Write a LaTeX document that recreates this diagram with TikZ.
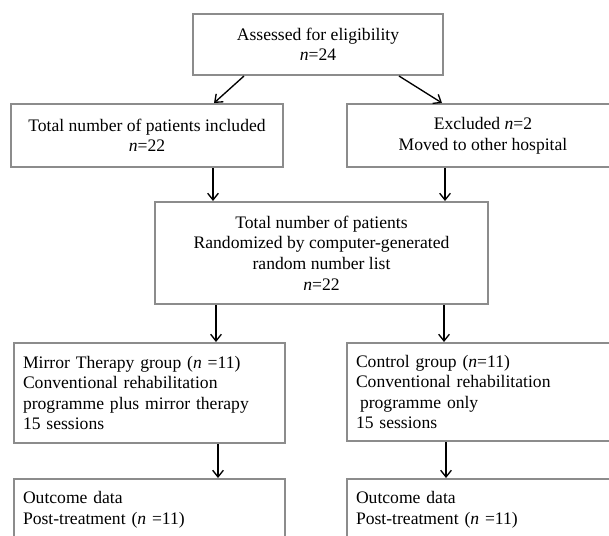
\documentclass[tikz,border=0pt]{standalone}
\usepackage{fontspec}
\setmainfont{Liberation Serif}
\usetikzlibrary{arrows.meta}

\tikzset{every picture/.style={line width=0.75pt}}
\tikzset{
  flowbox/.style={draw={rgb, 255:red, 140; green, 140; blue, 140}, line width=1.5pt, inner sep=0pt, align=center, font=\fontsize{13.2}{15.4}\selectfont},
  leftbox/.style={flowbox, align=left, inner xsep=6.75pt},
  flowarrow/.style={draw=black, line width=1pt, -{Straight Barb[length=5pt,width=8pt]}}
}

\begin{document}
\begin{tikzpicture}[x=0.75pt,y=0.75pt,yscale=-1,xscale=1]
\useasboundingbox (0,0) rectangle (609,535);

%Shape: Rectangle [assess]
\node [flowbox, minimum width=187.5pt, minimum height=45.75pt] (assess) at (318,44.5) {Assessed for eligibility\\\textit{n}=24};
%Shape: Rectangle [incl]
\node [flowbox, minimum width=204pt, minimum height=47.25pt] (incl) at (147,135.5) {Total number of patients included\\\textit{n}=22};
%Shape: Rectangle [excl]
\node [flowbox, minimum width=204pt, minimum height=47.25pt] (excl) at (483,135.5) {Excluded \textit{n}=2\\Moved to other hospital};
%Shape: Rectangle [rand]
\node [flowbox, minimum width=249.75pt, minimum height=76.5pt] (rand) at (321.5,253) {Total number of patients\\Randomized by computer-generated\\random number list\\\textit{n}=22};
%Shape: Rectangle [mirror]
\node [leftbox, text width=189.75pt, minimum height=75pt] (mirror) at (149.5,393) {Mirror Therapy group (\textit{n} =11)\\Conventional rehabilitation\\programme plus mirror therapy\\15 sessions};
%Shape: Rectangle [ctrl]
\node [leftbox, text width=190.5pt, minimum height=73.5pt] (ctrl) at (483,392) {Control group (\textit{n}=11)\\Conventional rehabilitation\\\hspace*{3pt}programme only\\15 sessions};
%Shape: Rectangle [outmirror]
\node [leftbox, text width=189.75pt, minimum height=46.5pt] (outmirror) at (149.5,510) {Outcome data\\Post-treatment (\textit{n} =11)};
%Shape: Rectangle [outctrl]
\node [leftbox, text width=190.5pt, minimum height=46.5pt] (outctrl) at (483,510) {Outcome data\\Post-treatment (\textit{n} =11)};

%Straight Lines [assess-incl]
\draw [flowarrow] ([xshift=39pt]assess.south west) -- ([xshift=153pt]incl.north west);
%Straight Lines [assess-excl]
\draw [flowarrow] ([xshift=155.25pt]assess.south west) -- ([xshift=72pt]excl.north west);
%Straight Lines [incl-rand]
\draw [flowarrow] ([xshift=152.25pt]incl.south west) -- ([xshift=44.25pt]rand.north west);
%Straight Lines [excl-rand]
\draw [flowarrow] ([xshift=74.25pt]excl.south west) -- ([xshift=218.25pt]rand.north west);
%Straight Lines [rand-mirror]
\draw [flowarrow] ([xshift=46.5pt]rand.south west) -- ([xshift=152.25pt]mirror.north west);
%Straight Lines [rand-ctrl]
\draw [flowarrow] ([xshift=217.5pt]rand.south west) -- ([xshift=73.5pt]ctrl.north west);
%Straight Lines [mirror-outmirror]
\draw [flowarrow] ([xshift=153.75pt]mirror.south west) -- ([xshift=153.75pt]outmirror.north west);
%Straight Lines [ctrl-outctrl]
\draw [flowarrow] ([xshift=75pt]ctrl.south west) -- ([xshift=75pt]outctrl.north west);

\end{tikzpicture}
\end{document}
